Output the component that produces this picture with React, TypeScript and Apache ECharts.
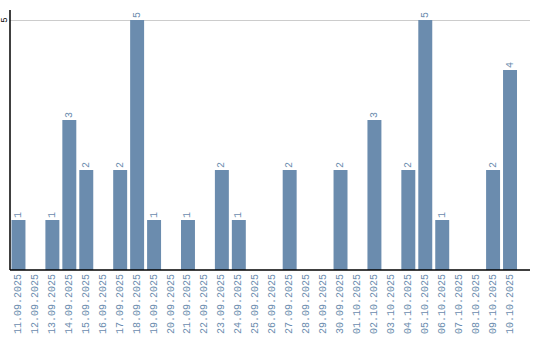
import React, { useEffect, useRef } from "react";
import * as echarts from "echarts";

const categories = [
  "11.09.2025", "12.09.2025", "13.09.2025", "14.09.2025", "15.09.2025",
  "16.09.2025", "17.09.2025", "18.09.2025", "19.09.2025", "20.09.2025",
  "21.09.2025", "22.09.2025", "23.09.2025", "24.09.2025", "25.09.2025",
  "26.09.2025", "27.09.2025", "28.09.2025", "29.09.2025", "30.09.2025",
  "01.10.2025", "02.10.2025", "03.10.2025", "04.10.2025", "05.10.2025",
  "06.10.2025", "07.10.2025", "08.10.2025", "09.10.2025", "10.10.2025",
];
const values = [1, 0, 1, 3, 2, 0, 2, 5, 1, 0, 1, 0, 2, 1, 0, 0, 2, 0, 0, 2, 0, 3, 0, 2, 5, 1, 0, 0, 2, 4];
const yTickValue = 5;
const yMax = 5.2;

export default function App() {
  const ref = useRef<HTMLDivElement>(null);
  useEffect(() => {
    const chart = echarts.init(ref.current!, null, { renderer: "svg" });
    const color = "#6b8cae";
    const font = "Liberation Mono";
    chart.setOption({
      animation: false,
      grid: { left: 8.5, right: 21.5, top: 10, bottom: 70, containLabel: false },
      xAxis: {
        type: "category",
        data: categories,
        axisLine: { show: false },
        axisTick: { show: false },
        axisLabel: {
          rotate: 90,
          interval: 0,
          color: color,
          fontFamily: font,
          fontSize: 10,
          margin: 4,
        },
      },
      yAxis: {
        type: "value",
        min: 0,
        max: yMax,
        interval: 5,
        axisLine: { show: false },
        axisTick: { show: false },
        splitLine: { show: false },
        axisLabel: {
          rotate: 90,
          margin: 1,
          color: "#000",
          fontFamily: font,
          fontSize: 9,
          formatter: (v: number) => (v === yTickValue ? String(v) : ""),
        },
      },
      series: [
        {
          type: "bar",
          data: values.map((v) => (v === 0 ? null : v)),
          barCategoryGap: "17.6%",
          itemStyle: { color: color },
          label: {
            show: true,
            position: "top",
            rotate: 90,
            align: "left",
            verticalAlign: "middle",
            distance: 2,
            color: color,
            fontFamily: font,
            fontSize: 10,
          },
          z: 3,
        },
      ],
    });
    const yZero = chart.convertToPixel({ yAxisIndex: 0 }, 0) as number;
    const yTop = chart.convertToPixel({ yAxisIndex: 0 }, yMax) as number;
    const yFive = chart.convertToPixel({ yAxisIndex: 0 }, yTickValue) as number;
    const xLeft = 10;
    const xRight = 530;
    chart.setOption({
      graphic: [
        {
          type: "line",
          z: 1,
          shape: { x1: xLeft, y1: Math.round(yFive) + 0.5, x2: xRight, y2: Math.round(yFive) + 0.5 },
          style: { stroke: "#cccccc", lineWidth: 1 },
        },
        {
          type: "line",
          z: 10,
          shape: { x1: xLeft, y1: yTop, x2: xLeft, y2: yZero },
          style: { stroke: "#000", lineWidth: 1.5 },
        },
        {
          type: "line",
          z: 10,
          shape: { x1: xLeft, y1: yZero, x2: xRight, y2: yZero },
          style: { stroke: "#000", lineWidth: 1.5 },
        },
      ],
    });
    return () => chart.dispose();
  }, []);
  return <div ref={ref} style={{ width: 540, height: 340, position: "absolute", left: 0, top: 0 }} />;
}
